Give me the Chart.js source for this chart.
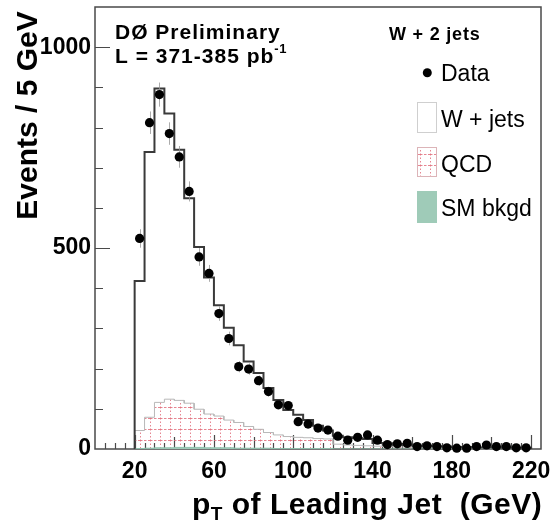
<!DOCTYPE html>
<html>
<head>
<meta charset="utf-8">
<script src="https://cdn.jsdelivr.net/npm/chart.js@4.4.0/dist/chart.umd.min.js"></script>
<style>
  html, body { margin: 0; padding: 0; background: #fff; }
  #wrap { width: 555px; height: 521px; position: relative; }
</style>
</head>
<body>
<div id="wrap"><canvas id="c" width="555" height="521"></canvas></div>
<script>
// Leading-jet pT, W + 2 jets selection, 5 GeV bins from 20 to 220 GeV
const binLowEdges = [20, 25, 30, 35, 40, 45, 50, 55, 60, 65, 70, 75, 80, 85, 90, 95, 100, 105, 110, 115,
                     120, 125, 130, 135, 140, 145, 150, 155, 160, 165, 170, 175, 180, 185, 190, 195, 200, 205, 210, 215];
const binWidth = 5;

// Observed events per bin
const dataCounts = [524, 812, 882, 785, 727, 641, 478, 437, 337, 275, 205, 199, 170, 143, 110, 108, 68, 62, 52, 47,
                    32, 22, 29, 35, 22, 11, 13, 14, 6, 8, 6, 3, 2, 2, 6, 10, 6, 6, 3, 3];
const dataErr = [23, 28, 30, 28, 27, 25, 22, 21, 18, 17, 14, 14, 13, 12, 10, 10, 8, 8, 7, 7,
                 6, 5, 5, 6, 5, 3, 4, 4, 2, 3, 2, 2, 1, 1, 2, 3, 2, 2, 2, 2];

// Expected contributions per bin (stacked: SM bkgd, QCD, W + jets)
const wjets = [372, 660, 781, 711, 624, 510, 404, 340, 276, 230, 192, 162, 140, 111, 87, 66, 56, 44, 32, 21,
               21, 19, 18, 17, 8, 8, 7, 5, 5, 4, 4, 3, 2, 2, 2, 2, 2, 1, 1, 1];
const qcd = [45, 77, 113, 121, 117, 110, 95, 84, 79, 69, 64, 54, 47, 39, 34, 30, 28, 27, 25, 24,
             12, 10, 9, 8, 7, 6, 5, 5, 4, 4, 3, 3, 3, 3, 2, 2, 2, 2, 2, 2];
const smBkgd = [1, 2, 3, 3, 4, 4, 4, 3, 3, 3, 2, 2, 2, 2, 1, 1, 1, 1, 1, 1,
                0, 0, 0, 0, 0, 0, 0, 0, 0, 0, 0, 0, 0, 0, 0, 0, 0, 0, 0, 0];

const xTickLabels = [20, 60, 100, 140, 180, 220];
const yTickLabels = [0, 500, 1000];

const FONT = '"Liberation Sans", Arial, Helvetica, sans-serif';

// cumulative tops of the stack
const smTop = smBkgd.slice();
const qcdTop = smBkgd.map((v, i) => v + qcd[i]);
const wTop = qcdTop.map((v, i) => v + wjets[i]);

// histogram outline as a polyline through the bin edges
function stepPoints(tops) {
  const pts = [{ x: binLowEdges[0], y: 0 }];
  tops.forEach((v, i) => {
    const lo = binLowEdges[i];
    pts.push({ x: lo, y: v }, { x: lo + binWidth, y: v });
  });
  pts.push({ x: binLowEdges[tops.length - 1] + binWidth, y: 0 });
  return pts;
}

const canvas = document.getElementById('c');
const ctx = canvas.getContext('2d');

// dotted pink grid used for the QCD fill
function makeHatch() {
  const p = document.createElement('canvas');
  p.width = 10; p.height = 11;
  const g = p.getContext('2d');
  g.strokeStyle = 'rgba(226,112,126,0.85)';
  g.lineWidth = 1;
  g.setLineDash([2.5, 1.5]);
  g.beginPath(); g.moveTo(0, 0.5); g.lineTo(10, 0.5); g.stroke();
  g.setLineDash([1.5, 2]);
  g.beginPath(); g.moveTo(0.5, 0); g.lineTo(0.5, 11); g.stroke();
  return ctx.createPattern(p, 'repeat');
}
const hatch = makeHatch();

const frameAndTicks = {
  id: 'frameAndTicks',
  beforeDatasetsDraw(chart) {
    const { ctx, chartArea: a, scales: { x, y } } = chart;
    ctx.save();
    ctx.strokeStyle = '#4a4a4a';
    ctx.lineWidth = 1.5;
    ctx.strokeRect(a.left, a.top, a.right - a.left, a.bottom - a.top);
    ctx.lineWidth = 1.2;
    ctx.beginPath();
    for (let v = 5; v <= 220; v += 5) {
      let len = 6;
      if (v % 20 === 0) len = ((v - 20) % 40 === 0) ? 14 : 12;
      const px = Math.round(x.getPixelForValue(v)) + 0.5;
      ctx.moveTo(px, a.bottom);
      ctx.lineTo(px, a.bottom - len);
    }
    for (let v = 100; v <= 1000; v += 100) {
      const len = (v % 500 === 0) ? 15 : 8;
      const py = Math.round(y.getPixelForValue(v)) + 0.5;
      ctx.moveTo(a.left, py);
      ctx.lineTo(a.left + len, py);
    }
    ctx.stroke();
    ctx.restore();
  }
};

const errorBars = {
  id: 'errorBars',
  beforeDatasetDraw(chart, args) {
    if (args.index !== 0) return;
    const { ctx, scales: { x, y } } = chart;
    ctx.save();
    ctx.strokeStyle = 'rgba(150,150,150,0.8)';
    ctx.lineWidth = 1;
    ctx.beginPath();
    dataCounts.forEach((v, i) => {
      const px = Math.round(x.getPixelForValue(binLowEdges[i] + binWidth / 2)) + 0.5;
      ctx.moveTo(px, y.getPixelForValue(v - dataErr[i]));
      ctx.lineTo(px, y.getPixelForValue(v + dataErr[i]));
    });
    ctx.stroke();
    ctx.restore();
  }
};

const annotations = {
  id: 'annotations',
  afterDraw(chart) {
    const c = chart.ctx;
    c.save();
    c.fillStyle = '#000';
    c.textAlign = 'left';
    c.textBaseline = 'alphabetic';

    // experiment label
    c.font = 'bold 21px ' + FONT;
    c.letterSpacing = '1px';
    c.fillText('D\u00D8 Preliminary', 115, 39);
    c.fillText('L = 371-385 pb', 115, 63);
    const lw = c.measureText('L = 371-385 pb').width;
    c.font = 'bold 13px ' + FONT;
    c.letterSpacing = '0.5px';
    c.fillText('-1', 115 + lw, 53);

    // legend
    c.font = 'bold 18px ' + FONT;
    c.letterSpacing = '0.8px';
    c.fillText('W + 2 jets', 389, 40);
    c.letterSpacing = '0px';
    c.font = '23px ' + FONT;

    c.beginPath();
    c.arc(427.3, 72.7, 4.5, 0, Math.PI * 2);
    c.fill();
    c.fillText('Data', 441, 80.5);

    c.fillStyle = '#fff';
    c.fillRect(417, 102, 20, 31);
    c.strokeStyle = '#cfcfcf';
    c.lineWidth = 1;
    c.strokeRect(417.5, 102.5, 19, 30);
    c.fillStyle = '#000';
    c.fillText('W + jets', 441, 127);

    c.fillStyle = hatch;
    c.fillRect(417, 147, 20, 30);
    c.strokeStyle = '#dcb4b8';
    c.strokeRect(417.5, 147.5, 19, 29);
    c.fillStyle = '#000';
    c.fillText('QCD', 441, 171.5);

    c.fillStyle = '#9fcbb8';
    c.fillRect(417, 191, 20, 32);
    c.fillStyle = '#000';
    c.fillText('SM bkgd', 441, 216);

    // axis titles
    c.font = 'bold 30px ' + FONT;
    c.save();
    c.translate(37, 115.5);
    c.rotate(-Math.PI / 2);
    c.textAlign = 'center';
    c.fillText('Events / 5 GeV', 0, 0);
    c.restore();

    let tx = 192;
    c.font = 'bold 30px ' + FONT;
    c.letterSpacing = '0.5px';
    c.fillText('p', tx, 514);
    tx += c.measureText('p').width;
    c.font = 'bold 19px ' + FONT;
    c.fillText('T', tx, 520);
    tx += c.measureText('T').width;
    c.font = 'bold 30px ' + FONT;
    c.fillText(' of Leading Jet  (GeV)', tx, 514);
    c.restore();
  }
};

new Chart(ctx, {
  type: 'line',
  data: {
    datasets: [
      {
        label: 'Data',
        data: dataCounts.map((v, i) => ({ x: binLowEdges[i] + binWidth / 2, y: v })),
        showLine: false,
        pointRadius: 4.6,
        pointBackgroundColor: '#000',
        pointBorderWidth: 0,
        clip: false,
        order: 0
      },
      {
        label: 'W + jets',
        data: stepPoints(wTop),
        borderColor: '#3a3a3a',
        borderWidth: 2,
        fill: false,
        pointRadius: 0,
        tension: 0,
        order: 1
      },
      {
        label: 'SM bkgd',
        data: stepPoints(smTop),
        borderColor: '#8fc2ad',
        borderWidth: 1,
        backgroundColor: '#9fcbb8',
        fill: 'origin',
        pointRadius: 0,
        tension: 0,
        order: 2
      },
      {
        label: 'QCD',
        data: stepPoints(qcdTop),
        borderColor: '#b8b8b8',
        borderWidth: 1,
        backgroundColor: hatch,
        fill: 'origin',
        pointRadius: 0,
        tension: 0,
        order: 3
      }
    ]
  },
  options: {
    responsive: false,
    animation: false,
    devicePixelRatio: 1,
    events: [],
    layout: { padding: { top: 7, right: 14, left: 0, bottom: 0 } },
    plugins: { legend: { display: false }, tooltip: { enabled: false }, title: { display: false } },
    scales: {
      x: {
        type: 'linear',
        min: 0,
        max: 225,
        grid: { display: false, drawTicks: false },
        border: { display: false },
        afterBuildTicks(s) { s.ticks = xTickLabels.map(v => ({ value: v })); },
        afterFit(s) { s.height = 72; s.paddingLeft = 0; s.paddingRight = 0; },
        ticks: {
          autoSkip: false,
          maxRotation: 0,
          padding: 9,
          color: '#000',
          font: { family: FONT, size: 23, weight: 'bold' },
          callback: v => String(v)
        }
      },
      y: {
        min: 0,
        max: 1100,
        grid: { display: false, drawTicks: false },
        border: { display: false },
        afterBuildTicks(s) { s.ticks = yTickLabels.map(v => ({ value: v })); },
        afterFit(s) { s.width = 95; s.paddingTop = 0; s.paddingBottom = 0; },
        ticks: {
          autoSkip: false,
          padding: 4,
          color: '#000',
          font: { family: FONT, size: 23, weight: 'bold' },
          callback: v => String(v)
        }
      }
    }
  },
  plugins: [frameAndTicks, errorBars, annotations]
});
</script>
</body>
</html>
